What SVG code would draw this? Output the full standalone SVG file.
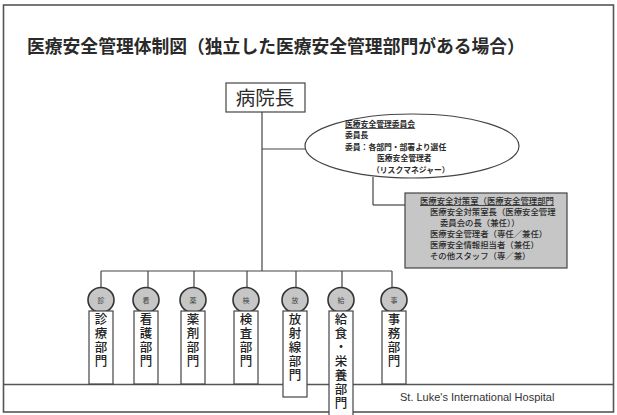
<svg xmlns="http://www.w3.org/2000/svg" width="617" height="415" viewBox="0 0 617 415">
<style>
  .jp { font-family: "Noto Sans CJK JP", "Noto Sans", sans-serif; fill: #2a2a2a; }
  .ln { stroke: #444; stroke-width: 1.2; fill: none; }
  .dept rect { fill: #fff; stroke: #444; stroke-width: 1.2; }
  .dept ellipse { fill: #c6c6c6; stroke: #333; stroke-width: 1.6; }
  .vt { font-family: "Noto Sans CJK JP", sans-serif; font-size: 12.5px; fill: #222; writing-mode: vertical-rl; text-orientation: upright; font-weight: 500; letter-spacing: 1.5px; }
  .mk { font-family: "Noto Sans CJK JP", sans-serif; font-size: 7px; fill: #444; text-anchor: middle; }
  .sm { font-size: 7.8px; font-weight: bold; }
  .gb { font-size: 8.4px; fill: #2a2a2a; font-weight: 500; }
</style>
<rect width="617" height="415" fill="#fff"/>
<rect x="3.5" y="5" width="610" height="407" fill="none" stroke="#555" stroke-width="1.6"/>
<line x1="3.5" y1="384.5" x2="613.5" y2="384.5" stroke="#555" stroke-width="1.3"/>

<g id="title">
  <text class="jp" x="27" y="53" font-size="17.8" font-weight="bold" fill="#333">医療安全管理体制図（独立した医療安全管理部門がある場合）</text>
</g>

<g id="connectors">
  <line class="ln" x1="262" y1="112" x2="262" y2="271"/>
  <line class="ln" x1="262" y1="149" x2="306" y2="149"/>
  <line class="ln" x1="373" y1="177" x2="373" y2="205"/>
  <line class="ln" x1="373" y1="205" x2="405" y2="205"/>
  <line class="ln" x1="101" y1="271" x2="392" y2="271"/>
  <line class="ln" x1="101" y1="271" x2="101" y2="288"/>
  <line class="ln" x1="148" y1="271" x2="148" y2="288"/>
  <line class="ln" x1="194" y1="271" x2="194" y2="288"/>
  <line class="ln" x1="247" y1="271" x2="247" y2="288"/>
  <line class="ln" x1="296" y1="271" x2="296" y2="288"/>
  <line class="ln" x1="342" y1="271" x2="342" y2="288"/>
  <line class="ln" x1="392" y1="271" x2="392" y2="288"/>
</g>

<g id="director">
  <rect x="226" y="83" width="79" height="29" fill="#fff" stroke="#444" stroke-width="1.2"/>
  <text class="jp" x="265" y="105" font-size="19.5" text-anchor="middle">病院長</text>
</g>

<g id="committee">
  <ellipse cx="412" cy="146" rx="107" ry="32" fill="#fff" stroke="#444" stroke-width="1.2"/>
  <text class="jp sm" x="345" y="127" text-decoration="underline">医療安全管理委員会</text>
  <text class="jp sm" x="345" y="138">委員長</text>
  <text class="jp sm" x="345" y="150">委員：各部門・部署より選任</text>
  <text class="jp sm" x="377" y="161">医療安全管理者</text>
  <text class="jp sm" x="372" y="173">（リスクマネジャー）</text>
</g>

<g id="safety-office">
  <rect x="405" y="193" width="162" height="75" fill="#c6c6c6" stroke="#444" stroke-width="1.2"/>
  <text class="jp gb" x="420" y="204" text-decoration="underline">医療安全対策室（医療安全管理部門</text>
  <text class="jp gb" x="430" y="215">医療安全対策室長（医療安全管理</text>
  <text class="jp gb" x="440" y="226">委員会の長（兼任））</text>
  <text class="jp gb" x="430" y="237">医療安全管理者（専任／兼任）</text>
  <text class="jp gb" x="430" y="248">医療安全情報担当者（兼任）</text>
  <text class="jp gb" x="430" y="259">その他スタッフ（専／兼）</text>
</g>

<g id="dept-shinryo" class="dept">
  <ellipse cx="101" cy="300" rx="13" ry="12.5"/>
  <text class="mk" x="101" y="302.5">診</text>
  <rect x="89" y="311" width="24" height="73"/>
  <text class="vt" x="101" y="313">診療部門</text>
</g>
<g id="dept-kango" class="dept">
  <ellipse cx="146" cy="300" rx="13" ry="12.5"/>
  <text class="mk" x="146" y="302.5">看</text>
  <rect x="134" y="311" width="24" height="73"/>
  <text class="vt" x="146" y="313">看護部門</text>
</g>
<g id="dept-yakuzai" class="dept">
  <ellipse cx="193" cy="300" rx="13" ry="12.5"/>
  <text class="mk" x="193" y="302.5">薬</text>
  <rect x="181" y="311" width="24" height="73"/>
  <text class="vt" x="193" y="313">薬剤部門</text>
</g>
<g id="dept-kensa" class="dept">
  <ellipse cx="246" cy="300" rx="13" ry="12.5"/>
  <text class="mk" x="246" y="302.5">検</text>
  <rect x="234" y="311" width="24" height="73"/>
  <text class="vt" x="246" y="313">検査部門</text>
</g>
<g id="dept-hoshasen" class="dept">
  <ellipse cx="295" cy="300" rx="13" ry="12.5"/>
  <text class="mk" x="295" y="302.5">放</text>
  <rect x="283" y="311" width="24" height="86"/>
  <text class="vt" x="295" y="313">放射線部門</text>
</g>
<g id="dept-kyushoku" class="dept">
  <ellipse cx="341" cy="300" rx="13" ry="12.5"/>
  <text class="mk" x="341" y="302.5">給</text>
  <rect x="329" y="311" width="24" height="110"/>
  <text class="vt" x="341" y="313">給食・栄養部門</text>
</g>
<g id="dept-jimu" class="dept">
  <ellipse cx="394" cy="300" rx="13" ry="12.5"/>
  <text class="mk" x="394" y="302.5">事</text>
  <rect x="382" y="311" width="24" height="73"/>
  <text class="vt" x="394" y="313">事務部門</text>
</g>

<g id="footer">
  <text x="400" y="401" font-family="'Liberation Sans', Arial, sans-serif" font-size="11" fill="#333">St. Luke's International Hospital</text>
</g>
</svg>
